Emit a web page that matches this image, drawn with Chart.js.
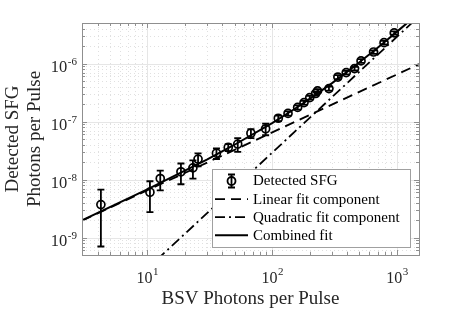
<!DOCTYPE html>
<html>
<head>
  <meta charset="UTF-8">
  <title>Detected SFG vs BSV Photons per Pulse</title>
  <script src="https://cdn.jsdelivr.net/npm/chart.js"></script>
  <style>
    html, body { margin: 0; padding: 0; background: #fff; }
    canvas { display: block; }
  </style>
</head>
<body>
  <canvas id="sfgChart" width="463" height="309"></canvas>

  <script>
    // measured points (x: BSV photons, y: detected SFG photons, +/- error)
    const bsvPhotons = [4.25, 10.5, 12.7, 18.6, 23.2, 25.5, 35.8, 44.5, 53.0, 67.6, 88.7, 112, 134, 160, 180, 200, 223, 231, 285, 336, 392, 457, 515, 649, 787, 950];
    const sfgPhotons = [3.7e-9, 6.05e-9, 1.04e-8, 1.36e-8, 1.59e-8, 2.25e-8, 2.85e-8, 3.58e-8, 4.09e-8, 6.28e-8, 7.5e-8, 1.14e-7, 1.38e-7, 1.75e-7, 2.12e-7, 2.58e-7, 3.05e-7, 3.37e-7, 3.7e-7, 5.85e-7, 6.98e-7, 8.19e-7, 1.11e-6, 1.58e-6, 2.29e-6, 3.37e-6];
    const sfgError = [3.0e-9, 3.3e-9, 3.9e-9, 5.3e-9, 5.5e-9, 5.7e-9, 5.9e-9, 5.0e-9, 1.1e-8, 1.1e-8, 1.7e-8, 1.2e-8, 1.2e-8, 1.5e-8, 1.6e-8, 2.0e-8, 2.4e-8, 2.6e-8, 3.0e-8, 4.5e-8, 5.0e-8, 6.0e-8, 8.0e-8, 1.1e-7, 1.6e-7, 2.2e-7];

    // fit curves
    const linearFitX = [3, 1500];
    const linearFitY = [1.95e-9, 9.75e-7];
    const quadFitX = [12, 1400];
    const quadFitY = [4.18e-10, 5.68e-6];
    const combinedFitX = [3, 10, 20, 30, 50, 100, 150, 200, 300, 400, 500, 650, 800, 1000, 1200, 1300];
    const combinedFitY = [1.98e-9, 6.79e-9, 1.42e-8, 2.21e-8, 3.98e-8, 9.4e-8, 1.63e-7, 2.46e-7, 4.56e-7, 7.24e-7, 1.05e-6, 1.65e-6, 2.38e-6, 3.55e-6, 4.96e-6, 5.75e-6];

    const xLimits = [3, 1500];
    const yLimits = [5e-10, 5e-6];
    const xTickExps = [1, 2, 3];
    const yTickExps = [-9, -8, -7, -6];

    const serif = '"Liberation Serif", "Times New Roman", serif';
    const ink = '#262626';
    const boxColor = '#8f8f8f';

    const toPoints = (xs, ys) => xs.map((x, i) => ({ x: x, y: ys[i] }));

    function logSteps(min, max) {
      const out = [];
      for (let e = Math.floor(Math.log10(min)); e <= Math.ceil(Math.log10(max)); e++) {
        for (let m = 1; m <= 9; m++) {
          const v = m * Math.pow(10, e);
          if (v >= min * 0.999 && v <= max * 1.001) out.push({ v: v, major: m === 1 });
        }
      }
      return out;
    }

    const matlabFrame = {
      id: 'matlabFrame',
      beforeDatasetsDraw(chart) {
        const { ctx, chartArea: a, scales: { x, y } } = chart;
        ctx.save();
        ctx.lineWidth = 1;
        // minor grid, dotted
        ctx.strokeStyle = '#e0e0e0';
        ctx.setLineDash([1, 3]);
        ctx.beginPath();
        logSteps(x.min, x.max).filter(t => !t.major).forEach(t => {
          const px = Math.round(x.getPixelForValue(t.v)) + 0.5;
          ctx.moveTo(px, a.top); ctx.lineTo(px, a.bottom);
        });
        logSteps(y.min, y.max).filter(t => !t.major).forEach(t => {
          const py = Math.round(y.getPixelForValue(t.v)) + 0.5;
          ctx.moveTo(a.left, py); ctx.lineTo(a.right, py);
        });
        ctx.stroke();
        // major grid, solid
        ctx.setLineDash([]);
        ctx.strokeStyle = '#e6e6e6';
        ctx.beginPath();
        logSteps(x.min, x.max).filter(t => t.major).forEach(t => {
          const px = Math.round(x.getPixelForValue(t.v)) + 0.5;
          ctx.moveTo(px, a.top); ctx.lineTo(px, a.bottom);
        });
        logSteps(y.min, y.max).filter(t => t.major).forEach(t => {
          const py = Math.round(y.getPixelForValue(t.v)) + 0.5;
          ctx.moveTo(a.left, py); ctx.lineTo(a.right, py);
        });
        ctx.stroke();
        ctx.restore();
      },
      afterDatasetsDraw(chart) {
        // error bars for the measured points
        const { ctx, chartArea: a, scales: { y } } = chart;
        const meta = chart.getDatasetMeta(0);
        ctx.save();
        ctx.beginPath();
        ctx.rect(a.left, a.top, a.right - a.left, a.bottom - a.top);
        ctx.clip();
        ctx.strokeStyle = '#000';
        ctx.lineWidth = 1.8;
        ctx.beginPath();
        meta.data.forEach((pt, i) => {
          const top = y.getPixelForValue(sfgPhotons[i] + sfgError[i]);
          const bot = y.getPixelForValue(Math.max(sfgPhotons[i] - sfgError[i], 1e-12));
          ctx.moveTo(pt.x, top); ctx.lineTo(pt.x, bot);
          ctx.moveTo(pt.x - 3.5, top); ctx.lineTo(pt.x + 3.5, top);
          ctx.moveTo(pt.x - 3.5, bot); ctx.lineTo(pt.x + 3.5, bot);
        });
        ctx.stroke();
        ctx.restore();
      },
      afterDraw(chart) {
        const { ctx, chartArea: a, scales: { x, y } } = chart;
        ctx.save();
        // tick marks inside the box, on all four sides
        ctx.strokeStyle = boxColor;
        ctx.lineWidth = 1;
        ctx.beginPath();
        logSteps(x.min, x.max).forEach(t => {
          const px = Math.round(x.getPixelForValue(t.v)) + 0.5;
          const len = t.major ? 5 : 3;
          ctx.moveTo(px, a.bottom); ctx.lineTo(px, a.bottom - len);
          ctx.moveTo(px, a.top); ctx.lineTo(px, a.top + len);
        });
        logSteps(y.min, y.max).forEach(t => {
          const py = Math.round(y.getPixelForValue(t.v)) + 0.5;
          const len = t.major ? 5 : 3;
          ctx.moveTo(a.left, py); ctx.lineTo(a.left + len, py);
          ctx.moveTo(a.right, py); ctx.lineTo(a.right - len, py);
        });
        ctx.stroke();
        ctx.strokeRect(Math.round(a.left) + 0.5, Math.round(a.top) + 0.5,
          Math.round(a.right - a.left), Math.round(a.bottom - a.top));

        // tick labels 10^n
        ctx.fillStyle = ink;
        ctx.textBaseline = 'alphabetic';
        xTickExps.forEach(e => {
          const px = x.getPixelForValue(Math.pow(10, e));
          ctx.font = '16px ' + serif;
          const wb = ctx.measureText('10').width;
          ctx.font = '11px ' + serif;
          const we = ctx.measureText(String(e)).width;
          const x0 = px - (wb + we) / 2;
          ctx.font = '16px ' + serif;
          ctx.textAlign = 'left';
          ctx.fillText('10', x0, 283);
          ctx.font = '11px ' + serif;
          ctx.fillText(String(e), x0 + wb + 0.5, 275);
        });
        yTickExps.forEach(e => {
          const py = y.getPixelForValue(Math.pow(10, e));
          ctx.font = '11px ' + serif;
          const we = ctx.measureText(String(e)).width;
          ctx.textAlign = 'right';
          ctx.fillText(String(e), 77, py + 1);
          ctx.font = '16.5px ' + serif;
          ctx.fillText('10', 77 - we - 0.5, py + 8.5);
        });

        // legend box
        const lx = 212, ly = 169, lw = 198, lh = 78;
        ctx.fillStyle = '#fff';
        ctx.fillRect(lx, ly, lw, lh);
        ctx.strokeStyle = '#a0a0a0';
        ctx.strokeRect(lx + 0.5, ly + 0.5, lw, lh);
        ctx.font = '15px ' + serif;
        ctx.textAlign = 'left';
        ctx.textBaseline = 'middle';
        chart.data.datasets.forEach((ds, i) => {
          const cy = 181 + i * 18.1;
          const x1 = 215, x2 = 248;
          ctx.strokeStyle = '#000';
          ctx.lineWidth = ds.borderWidth;
          if (i === 0) {
            const cx = (x1 + x2) / 2;
            ctx.lineWidth = 1.8;
            ctx.beginPath();
            ctx.moveTo(cx, cy - 6.5); ctx.lineTo(cx, cy + 6.5);
            ctx.moveTo(cx - 3.5, cy - 6.5); ctx.lineTo(cx + 3.5, cy - 6.5);
            ctx.moveTo(cx - 3.5, cy + 6.5); ctx.lineTo(cx + 3.5, cy + 6.5);
            ctx.stroke();
            ctx.beginPath();
            ctx.arc(cx, cy, ds.pointRadius, 0, Math.PI * 2);
            ctx.stroke();
          } else {
            ctx.setLineDash(ds.borderDash || []);
            ctx.beginPath();
            ctx.moveTo(x1, cy); ctx.lineTo(x2, cy);
            ctx.stroke();
            ctx.setLineDash([]);
          }
          ctx.fillStyle = '#000';
          ctx.fillText(ds.label, 253, cy + 0.5);
        });
        ctx.restore();
      }
    };

    const ctx = document.getElementById('sfgChart').getContext('2d');
    new Chart(ctx, {
      type: 'scatter',
      data: {
        datasets: [
          {
            label: 'Detected SFG',
            data: toPoints(bsvPhotons, sfgPhotons),
            showLine: false,
            pointStyle: 'circle',
            pointRadius: 4,
            pointBorderWidth: 1.7,
            borderColor: '#000',
            backgroundColor: 'rgba(0,0,0,0)',
            borderWidth: 1.7
          },
          {
            label: 'Linear fit component',
            data: toPoints(linearFitX, linearFitY),
            showLine: true,
            borderColor: '#000',
            borderWidth: 1.8,
            borderDash: [10, 6],
            pointRadius: 0,
            clip: 0
          },
          {
            label: 'Quadratic fit component',
            data: toPoints(quadFitX, quadFitY),
            showLine: true,
            borderColor: '#000',
            borderWidth: 1.8,
            borderDash: [10, 4, 2, 4],
            pointRadius: 0,
            clip: 0
          },
          {
            label: 'Combined fit',
            data: toPoints(combinedFitX, combinedFitY),
            showLine: true,
            borderColor: '#000',
            borderWidth: 2,
            pointRadius: 0,
            clip: 0
          }
        ]
      },
      options: {
        responsive: false,
        devicePixelRatio: 1,
        animation: false,
        layout: { padding: { left: 0, right: 44, top: 23, bottom: 0 } },
        plugins: {
          legend: { display: false },
          tooltip: { enabled: false }
        },
        scales: {
          x: {
            type: 'logarithmic',
            min: xLimits[0],
            max: xLimits[1],
            grid: { display: false },
            border: { display: false },
            ticks: { display: false },
            afterFit: s => { s.height = 54; },
            title: {
              display: true,
              text: 'BSV Photons per Pulse',
              color: ink,
              font: { family: serif, size: 19, lineHeight: 1.05 },
              padding: { top: 0, bottom: 0 }
            }
          },
          y: {
            type: 'logarithmic',
            min: yLimits[0],
            max: yLimits[1],
            grid: { display: false },
            border: { display: false },
            ticks: { display: false },
            afterFit: s => { s.width = 82; },
            title: {
              display: true,
              text: ['Detected SFG', 'Photons per Pulse'],
              color: ink,
              font: { family: serif, size: 19, lineHeight: 1.15 },
              padding: { top: 2.5, bottom: 0 }
            }
          }
        }
      },
      plugins: [matlabFrame]
    });
  </script>
</body>
</html>
